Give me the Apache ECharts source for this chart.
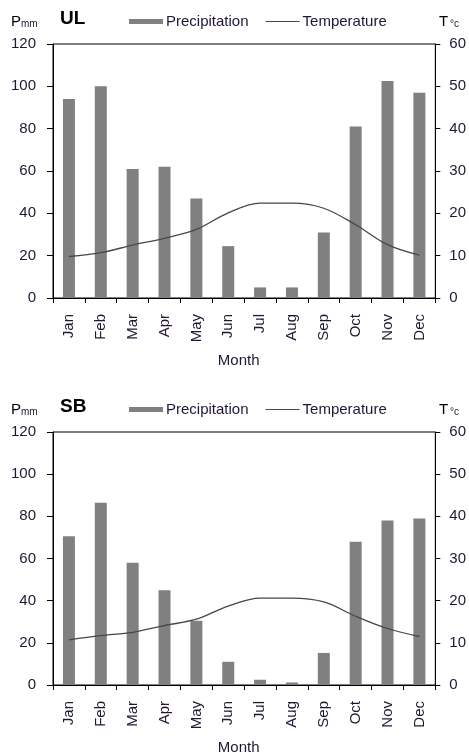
<!DOCTYPE html>
<html>
<head>
<meta charset="utf-8">
<script src="https://cdn.jsdelivr.net/npm/echarts@6/dist/echarts.min.js"></script>
<style>
  html, body { margin: 0; padding: 0; background: #fff; }
  #chart { width: 469px; height: 756px; }
</style>
</head>
<body>
<div id="chart"></div>
<script>
// Monthly climate diagrams for two stations: precipitation (bars, mm) and temperature (line, °C)
const months = ['Jan', 'Feb', 'Mar', 'Apr', 'May', 'Jun', 'Jul', 'Aug', 'Sep', 'Oct', 'Nov', 'Dec'];

const ulPrecip = [94, 100, 61, 62, 47, 24.5, 5, 5, 31, 81, 102.5, 97];
const ulTemp = [9.8, 10.7, 12.5, 14.1, 16.2, 20.1, 22.4, 22.4, 21.2, 17.3, 12.6, 10.1];

const sbPrecip = [70.5, 86.5, 58, 45, 30.5, 11, 2.5, 1.2, 15.2, 68, 78, 79];
const sbTemp = [10.7, 11.7, 12.5, 14.1, 15.6, 18.7, 20.6, 20.6, 19.7, 16.3, 13.4, 11.5];

const precipAxis = { min: 0, max: 120, interval: 20 };
const tempAxis = { min: 0, max: 60, interval: 10 };

const stations = [
  { name: 'UL', precip: ulPrecip, temp: ulTemp },
  { name: 'SB', precip: sbPrecip, temp: sbTemp }
];

const FONT = 'Liberation Sans, Arial, sans-serif';
const TXT = '#221634';
const BAR = '#808080';
const LINE = '#474747';

const chart = echarts.init(document.getElementById('chart'), null, { renderer: 'canvas' });

const grids = [], xAxes = [], yAxes = [], series = [], legends = [], graphics = [];
const gridTops = [44, 432];
const gridHeights = [254, 253];

stations.forEach((st, i) => {
  const dy = i === 0 ? 0 : 388;
  grids.push({
    left: 53, right: 31, top: gridTops[i], height: gridHeights[i],
    show: true, borderColor: '#000', borderWidth: 1, backgroundColor: 'transparent'
  });
  xAxes.push({
    type: 'category', gridIndex: i, data: months, boundaryGap: true,
    axisLine: { show: true, lineStyle: { color: '#000', width: 1 } },
    axisTick: { show: true, length: 5, lineStyle: { color: '#000' } },
    axisLabel: { rotate: 90, margin: 16, color: TXT, fontFamily: FONT, fontSize: 15, interval: 0 },
    name: 'Month', nameLocation: 'middle', nameGap: 55,
    nameTextStyle: { color: TXT, fontFamily: FONT, fontSize: 15, padding: [0, 11, 0, 0] }
  });
  yAxes.push({
    type: 'value', gridIndex: i, position: 'left',
    min: precipAxis.min, max: precipAxis.max, interval: precipAxis.interval,
    axisLine: { show: true, lineStyle: { color: '#000', width: 1 } },
    axisTick: { show: true, length: 6, lineStyle: { color: '#000' } },
    splitLine: { show: false },
    axisLabel: { margin: 17, color: TXT, fontFamily: FONT, fontSize: 15 }
  });
  yAxes.push({
    type: 'value', gridIndex: i, position: 'right',
    min: tempAxis.min, max: tempAxis.max, interval: tempAxis.interval,
    axisLine: { show: true, lineStyle: { color: '#000', width: 1 } },
    axisTick: { show: true, length: 5, lineStyle: { color: '#000' } },
    splitLine: { show: false },
    axisLabel: { margin: 14, color: TXT, fontFamily: FONT, fontSize: 15 }
  });
  series.push({
    name: 'Precipitation', type: 'bar', xAxisIndex: i, yAxisIndex: i * 2,
    data: st.precip, barWidth: 12, itemStyle: { color: BAR }, z: 2
  });
  series.push({
    name: 'Temperature', type: 'line', xAxisIndex: i, yAxisIndex: i * 2 + 1,
    data: st.temp, smooth: 0.35, symbol: 'none',
    lineStyle: { color: LINE, width: 1.3 }, itemStyle: { color: LINE }, z: 3
  });
  legends.push({
    left: 129, top: 14 + dy, padding: 0, itemWidth: 34, itemHeight: 5, itemGap: 17,
    selectedMode: false,
    data: [
      { name: 'Precipitation', icon: 'rect' },
      { name: 'Temperature', icon: 'path://M0,0H34V1H0Z' }
    ],
    textStyle: { color: TXT, fontFamily: FONT, fontSize: 15, padding: [0, 0, 0, -2] }
  });
  graphics.push(
    { type: 'text', left: 60, top: 9 + dy,
      style: { text: st.name, font: 'bold 19px ' + FONT, fill: '#000' } },
    { type: 'text', left: 11, top: 14 + dy,
      style: { text: 'P', font: '15px ' + FONT, fill: '#000' } },
    { type: 'text', left: 21, top: 19 + dy,
      style: { text: 'mm', font: '10px ' + FONT, fill: TXT } },
    { type: 'text', left: 439, top: 14 + dy,
      style: { text: 'T', font: '15px ' + FONT, fill: '#000' } },
    { type: 'text', left: 450, top: 19 + dy,
      style: { text: '°c', font: '10px ' + FONT, fill: TXT } }
  );
});

chart.setOption({
  animation: false,
  backgroundColor: '#fff',
  textStyle: { fontFamily: FONT },
  grid: grids,
  xAxis: xAxes,
  yAxis: yAxes,
  legend: legends,
  series: series,
  graphic: graphics
});
</script>
</body>
</html>
